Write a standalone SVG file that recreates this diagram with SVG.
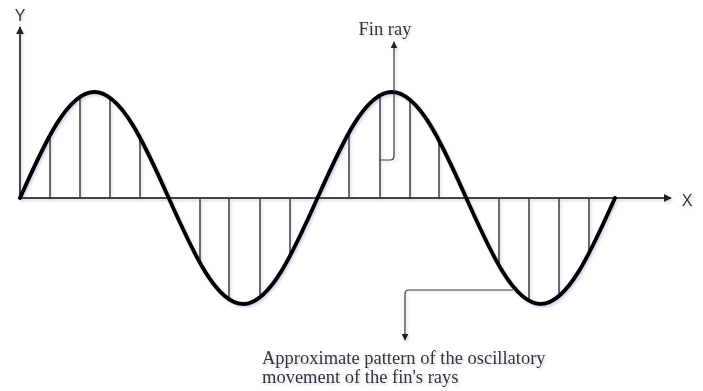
<svg xmlns="http://www.w3.org/2000/svg" width="703" height="391" viewBox="0 0 703 391">
  <defs>
    <filter id="sh" x="-5%" y="-5%" width="110%" height="110%">
      <feDropShadow dx="1.5" dy="2" stdDeviation="1.2" flood-color="#8a8fb8" flood-opacity="0.35"/>
    </filter>
    <marker id="ah" viewBox="0 0 10 10" refX="9" refY="5" markerWidth="8" markerHeight="8" markerUnits="userSpaceOnUse" orient="auto">
      <path d="M0,0 L10,5 L0,10 Z" fill="#222"/>
    </marker>
    <marker id="ahs" viewBox="0 0 10 10" refX="9" refY="5" markerWidth="7" markerHeight="7" markerUnits="userSpaceOnUse" orient="auto">
      <path d="M0,0 L10,5 L0,10 Z" fill="#222"/>
    </marker>
  </defs>
  <style>
    .axis { stroke: #444; stroke-width: 2; fill: none; }
    .ray { stroke: #3a3a3a; stroke-width: 1.5; fill: none; }
    .wave { stroke: #000; stroke-width: 4; fill: none; stroke-linecap: round; }
    .conn { stroke: #333; stroke-width: 1.2; fill: none; }
    .lbl { font-family: "Liberation Sans", Arial, sans-serif; font-size: 16px; fill: #333; }
    .note { font-family: "Liberation Serif", "Times New Roman", serif; font-size: 18.5px; fill: #333; }
  </style>
  <rect width="703" height="391" fill="#fff"/>
  <g filter="url(#sh)">
    <g id="axes">
      <line class="axis" x1="20" y1="198" x2="671" y2="198" marker-end="url(#ah)"/>
      <line class="axis" x1="20" y1="198" x2="20" y2="27" marker-end="url(#ah)"/>
      <text class="lbl" x="20" y="21" text-anchor="middle">Y</text>
      <text class="lbl" x="687" y="206" text-anchor="middle">X</text>
    </g>
    <g id="rays">
      <line class="ray" x1="50" y1="198" x2="50" y2="135.2"/>
      <line class="ray" x1="80" y1="198" x2="80" y2="96.9"/>
      <line class="ray" x1="110" y1="198" x2="110" y2="97.7"/>
      <line class="ray" x1="140" y1="198" x2="140" y2="137.5"/>
      <line class="ray" x1="200" y1="198" x2="200" y2="263.1"/>
      <line class="ray" x1="229" y1="198" x2="229" y2="299.4"/>
      <line class="ray" x1="260" y1="198" x2="260" y2="297.7"/>
      <line class="ray" x1="290" y1="198" x2="290" y2="256.2"/>
      <line class="ray" x1="349" y1="198" x2="349" y2="132.6"/>
      <line class="ray" x1="380" y1="198" x2="380" y2="95.3"/>
      <line class="ray" x1="410" y1="198" x2="410" y2="99.6"/>
      <line class="ray" x1="439" y1="198" x2="439" y2="140.4"/>
      <line class="ray" x1="499" y1="198" x2="499" y2="265.7"/>
      <line class="ray" x1="529" y1="198" x2="529" y2="300.9"/>
      <line class="ray" x1="559" y1="198" x2="559" y2="296.2"/>
      <line class="ray" x1="589" y1="198" x2="589" y2="253.4"/>
    </g>
    <g id="wave">
      <path class="wave" d="M20,198 C44.26,143.7 67.46,92 94.375,92 C121.29,92 144.49,143.7 168.75,198 C193.01,252.3 216.21,304 243.125,304 C270.04,304 293.24,252.3 317.5,198 C341.76,143.7 364.96,92 391.875,92 C418.79,92 441.99,143.7 466.25,198 C490.51,252.3 513.71,304 540.625,304 C567.54,304 590.74,252.3 615,198"/>
    </g>
    <g id="connectors">
      <path class="conn" d="M380,160 L390,160 Q394,160 394,156 L394,42" marker-end="url(#ahs)"/>
      <path class="conn" d="M513,290 L409,290 Q405,290 405,294 L405,340" marker-end="url(#ahs)"/>
    </g>
    <g id="label-finray">
      <text class="note" x="385" y="35" text-anchor="middle">Fin ray</text>
    </g>
    <g id="label-pattern">
      <text class="note" x="262" y="363.5">Approximate pattern of the oscillatory</text>
      <text class="note" x="262" y="383">movement of the fin's rays</text>
    </g>
  </g>
</svg>
